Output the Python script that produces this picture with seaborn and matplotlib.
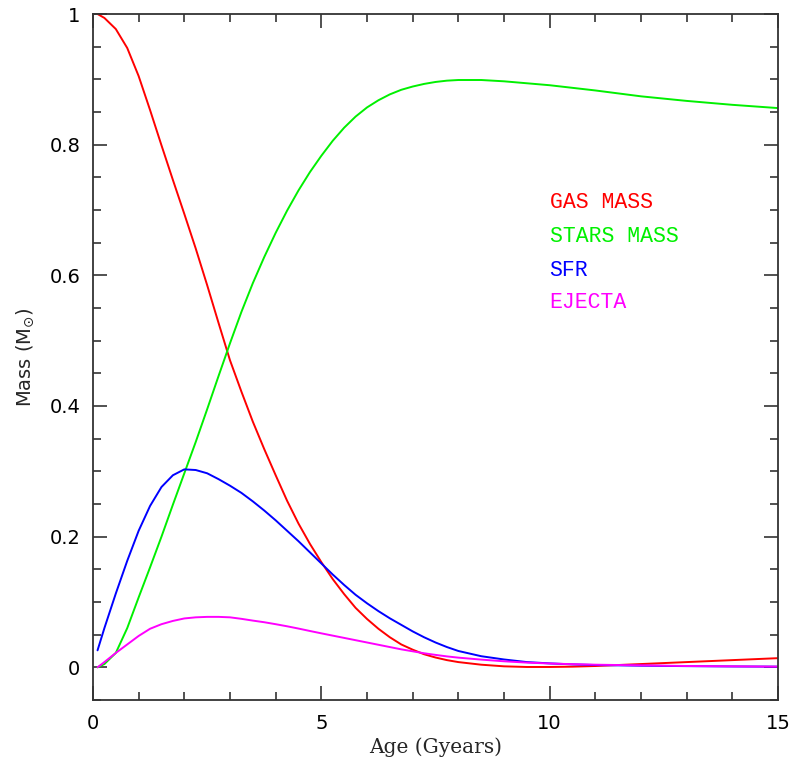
import matplotlib
matplotlib.use("Agg")
import matplotlib.pyplot as plt
import seaborn as sns
import pandas as pd
from matplotlib.ticker import MultipleLocator, FuncFormatter

age = [0.1, 0.25, 0.5, 0.75, 1.0, 1.25, 1.5, 1.75, 2.0, 2.25, 2.5, 2.75, 3.0,
       3.25, 3.5, 3.75, 4.0, 4.25, 4.5, 4.75, 5.0, 5.25, 5.5, 5.75, 6.0, 6.25,
       6.5, 6.75, 7.0, 7.25, 7.5, 7.75, 8.0, 8.5, 9.0, 9.5, 10.0, 10.5, 11.0,
       12.0, 13.0, 14.0, 15.0]

gas_mass = [1.0, 0.994, 0.977, 0.948, 0.905, 0.853, 0.799, 0.746, 0.694, 0.641,
            0.585, 0.527, 0.470, 0.422, 0.376, 0.334, 0.294, 0.255, 0.220, 0.189,
            0.161, 0.135, 0.112, 0.091, 0.074, 0.059, 0.046, 0.035, 0.027, 0.020,
            0.015, 0.011, 0.008, 0.004, 0.0015, 0.0005, 0.0005, 0.001, 0.002,
            0.005, 0.008, 0.011, 0.014]

stars_mass = [0.0, 0.005, 0.022, 0.06, 0.107, 0.153, 0.2, 0.249, 0.297, 0.345,
              0.395, 0.446, 0.496, 0.544, 0.588, 0.628, 0.665, 0.699, 0.73, 0.758,
              0.783, 0.806, 0.826, 0.843, 0.857, 0.868, 0.877, 0.884, 0.889, 0.893,
              0.896, 0.898, 0.899, 0.899, 0.897, 0.894, 0.891, 0.887, 0.883,
              0.874, 0.867, 0.861, 0.856]

sfr = [0.026, 0.06, 0.113, 0.163, 0.209, 0.247, 0.276, 0.294, 0.303, 0.302,
       0.297, 0.288, 0.278, 0.267, 0.254, 0.24, 0.225, 0.209, 0.193, 0.176,
       0.159, 0.142, 0.126, 0.111, 0.098, 0.086, 0.075, 0.065, 0.055, 0.046,
       0.038, 0.031, 0.025, 0.017, 0.012, 0.008, 0.006, 0.0045, 0.0035,
       0.0025, 0.0018, 0.0013, 0.001]

ejecta = [0.0, 0.008, 0.022, 0.035, 0.048, 0.059, 0.066, 0.071, 0.0748, 0.0765,
          0.0772, 0.0772, 0.0765, 0.0742, 0.0715, 0.069, 0.066, 0.0628, 0.0593,
          0.0556, 0.052, 0.0485, 0.045, 0.0415, 0.038, 0.0345, 0.031, 0.0275,
          0.0245, 0.0215, 0.019, 0.0167, 0.0148, 0.0118, 0.0092, 0.0072, 0.0058,
          0.0048, 0.004, 0.003, 0.002, 0.0015, 0.001]

series_names = ["GAS MASS", "STARS MASS", "SFR", "EJECTA"]
series_colors = ["#ff0000", "#00f000", "#0000ff", "#ff00ff"]
legend_y = [0.711, 0.659, 0.608, 0.559]

frames = []
for name, vals in zip(series_names, [gas_mass, stars_mass, sfr, ejecta]):
    frames.append(pd.DataFrame({"age": age, "mass": vals, "series": name}))
df = pd.concat(frames, ignore_index=True)

sns.set_style("ticks")
plt.rcParams['font.family'] = ['DejaVu Sans']

fig = plt.figure(figsize=(7.94, 7.62), dpi=100)
ax = fig.add_axes([0.1171, 0.0814, 0.8628, 0.9002])

sns.lineplot(data=df, x="age", y="mass", hue="series", hue_order=series_names,
             palette=series_colors, linewidth=1.4, legend=False, ax=ax,
             estimator=None, sort=False)

ax.set_xlim(0, 15)
ax.set_ylim(-0.05, 1.0)
ax.xaxis.set_major_locator(MultipleLocator(5))
ax.xaxis.set_minor_locator(MultipleLocator(1))
ax.yaxis.set_major_locator(MultipleLocator(0.2))
ax.yaxis.set_minor_locator(MultipleLocator(0.05))

def fmt(v, pos):
    if abs(v - round(v)) < 1e-9:
        return "%d" % round(v)
    return "%.1f" % v

ax.xaxis.set_major_formatter(FuncFormatter(fmt))
ax.yaxis.set_major_formatter(FuncFormatter(fmt))

ax.tick_params(axis="both", which="both", direction="in", top=True, right=True,
               color="#333333", width=1.2, labelsize=14, labelcolor="black")
ax.tick_params(axis="both", which="major", length=10)
ax.tick_params(axis="both", which="minor", length=5.5)
ax.tick_params(axis="x", which="major", pad=10)
ax.tick_params(axis="y", which="major", pad=9)

for sp in ax.spines.values():
    sp.set_visible(True)
    sp.set_linewidth(1.3)
    sp.set_color("#333333")

ax.set_xlabel("Age (Gyears)", fontsize=14.5, family="DejaVu Serif", labelpad=3)
ax.set_ylabel(r"Mass (M$_{\odot}$)", fontsize=14, family="DejaVu Sans", labelpad=10)

for name, col, yv in zip(series_names, series_colors, legend_y):
    ax.text(10.0, yv, name, color=col, fontsize=15.5, family="Liberation Mono",
            va="center", ha="left")

fig.savefig("out.png", dpi=100)
